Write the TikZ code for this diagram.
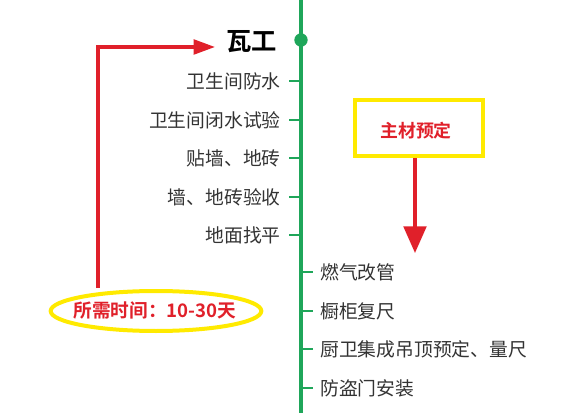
\documentclass[tikz,border=0pt]{standalone}
\usepackage{fontspec}
\setmainfont{Noto Sans CJK SC}[BoldFont={Noto Sans CJK SC Bold}]
\usetikzlibrary{arrows.meta,shapes.geometric}
\definecolor{tlgreen}{HTML}{1FA65A}
\definecolor{tlred}{HTML}{E0202A}
\definecolor{tlyellow}{HTML}{FFEA00}
\definecolor{tltext}{HTML}{333333}
\begin{document}
\begin{tikzpicture}[x=0.75pt,y=-0.75pt,
  lefttask/.style={anchor=east,text=tltext,font=\fontsize{14.1}{16}\selectfont,inner sep=0pt},
  righttask/.style={anchor=west,text=tltext,font=\fontsize{14.1}{16}\selectfont,inner sep=0pt},
  tick/.style={draw=tlgreen,line width=2.2pt},
  redarrow/.style={draw=tlred,line width=2.4pt,-{Triangle[length=16pt,width=11pt]}},
  noteword/.style={text=tlred,font=\bfseries\fontsize{13.4}{15}\selectfont}]
\useasboundingbox (0,0) rectangle (574,413);
% timeline
\coordinate (ltop) at (301,0);
\coordinate (lbot) at (301,413);
\draw[draw=tlgreen,line width=3pt] (ltop) -- (lbot);
\node[circle,fill=tlgreen,minimum size=10pt,inner sep=0pt] (dot) at (301,40) {};
\node[anchor=east,text=black,font=\bfseries\fontsize{19}{21}\selectfont,inner sep=0pt] (wg) at (277,42) {瓦工};
% left tasks
\foreach \y/\t/\n in {81/卫生间防水/a,120/卫生间闭水试验/b,158/贴墙、地砖/c,197/墙、地砖验收/d,235/地面找平/e}{
  \coordinate (lt\n) at (289,\y);
  \coordinate (rt\n) at (299,\y);
  \draw[tick] (lt\n) -- (rt\n);
  \node[lefttask] (t\n) at (281,\y) {\t};
}
% right tasks
\foreach \y/\t/\n in {272/燃气改管/f,311/橱柜复尺/g,349/厨卫集成吊顶预定、量尺/h,388/防盗门安装/i}{
  \coordinate (lt\n) at (303,\y);
  \coordinate (rt\n) at (313,\y);
  \draw[tick] (lt\n) -- (rt\n);
  \node[righttask] (t\n) at (320,\y) {\t};
}
% yellow box
\node[draw=tlyellow,line width=3pt,minimum width=96pt,minimum height=42pt,inner sep=0pt] (box) at (419,128.5) {};
\node[noteword] (boxtext) at (416,131) {主材预定};
\coordinate (downend) at (415,253);
\draw[draw=tlred,line width=2.4pt,-{Triangle[length=20pt,width=17pt]}] (box.south -| downend) -- (downend);
% ellipse
\node[ellipse,draw=tlyellow,line width=3pt,minimum width=158pt,minimum height=30pt,inner sep=0pt] (time) at (156,311) {};
\node[noteword,font=\bfseries\fontsize{14}{16}\selectfont] (timetext) at (155,311) {所需时间：10-30天};
\coordinate (start) at (98,288);
\coordinate (arrowend) at (215,47);
\draw[redarrow] (start) |- (arrowend);
\end{tikzpicture}
\end{document}
